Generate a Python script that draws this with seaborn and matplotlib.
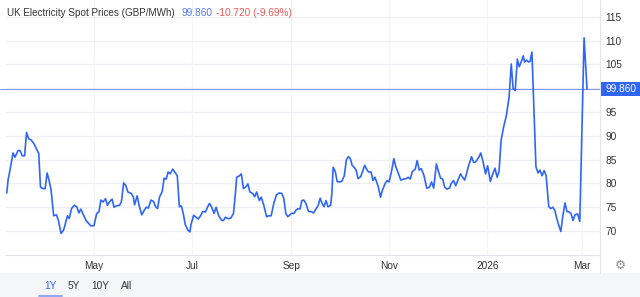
import matplotlib
matplotlib.use("Agg")
import matplotlib.pyplot as plt
import seaborn as sns
import pandas as pd
from matplotlib.patches import Rectangle
from matplotlib.lines import Line2D

# ---------------- data ----------------
title = "UK Electricity Spot Prices (GBP/MWh)"
last_price = 99.860
change = -10.720
change_pct = -9.69
base_date = "2025-03-01"

day_offset = [
    6.7, 7.5, 8.7, 10.6, 11.8, 13.7, 14.9, 16.4, 17.8, 19.0, 20.3, 21.9, 23.5, 25.6, 26.6,
    27.7, 29.3, 30.6, 31.8, 33.0, 34.3, 35.9, 37.6, 38.8, 40.5, 42.1, 44.5, 45.6, 47.0, 48.7,
    50.3, 51.6, 52.8, 54.4, 56.1, 57.7, 59.0, 61.0, 62.7, 64.1, 65.3, 66.7, 68.2, 69.4, 70.9,
    72.3, 73.5, 75.0, 77.0, 78.1, 79.5, 80.9, 82.1, 84.2, 85.5, 86.3, 87.9, 89.3, 90.8, 92.4,
    93.6, 94.9, 96.5, 98.1, 99.4, 100.6, 101.8, 103.5, 104.7, 106.0, 107.2, 108.4, 110.1, 111.3, 112.9,
    114.2, 115.4, 116.6, 117.9, 119.5, 120.8, 121.4, 123.1, 124.3, 125.9, 127.4, 128.8, 130.5, 131.7, 133.0,
    134.2, 135.8, 137.1, 138.7, 140.4, 141.7, 142.9, 144.5, 146.2, 147.9, 149.1, 149.9, 151.6, 152.8, 154.1,
    155.7, 156.9, 158.1, 159.8, 161.1, 162.3, 164.0, 165.2, 166.8, 168.5, 169.7, 171.4, 173.0, 174.7, 176.4,
    178.0, 179.2, 180.5, 181.7, 182.8, 184.0, 185.6, 186.9, 188.1, 189.3, 190.5, 191.7, 193.0, 194.6, 196.2,
    197.8, 199.4, 200.7, 201.9, 203.1, 204.3, 205.5, 206.8, 208.4, 209.2, 210.0, 211.3, 212.5, 213.7, 215.3,
    216.9, 218.2, 219.4, 220.6, 221.8, 223.0, 224.3, 225.5, 227.1, 228.3, 229.6, 230.8, 232.0, 233.6, 234.8,
    236.0, 238.1, 239.5, 240.7, 242.4, 243.6, 244.8, 246.5, 247.8, 249.0, 250.3, 252.1, 253.8, 255.5, 256.7,
    258.0, 259.3, 261.1, 262.3, 263.6, 264.9, 266.6, 268.3, 270.0, 271.3, 272.6, 274.3, 275.6, 276.9, 278.2,
    279.5, 280.8, 282.4, 283.7, 285.0, 286.3, 288.0, 289.3, 290.6, 291.9, 293.2, 294.4, 296.2, 297.5, 298.7,
    300.9, 301.9, 303.2, 304.9, 306.2, 307.9, 309.1, 310.8, 312.1, 313.3, 314.6, 316.2, 317.9, 319.6, 320.9,
    322.1, 323.4, 324.7, 325.9, 327.2, 328.4, 329.2, 330.5, 331.7, 332.6, 333.8, 336.3, 337.6, 338.8, 340.1,
    341.4, 342.6, 344.3, 345.6, 346.8, 348.1, 349.3, 350.6, 351.8, 353.1, 354.4, 355.6, 356.9, 358.1, 359.4,
    360.6, 362.3, 363.6, 366.3, 368.1,
]
price = [
    78.0, 80.7, 82.8, 86.4, 85.5, 86.9, 86.9, 85.8, 85.8, 90.7, 89.4, 89.1, 88.4, 87.0, 86.3,
    79.2, 78.9, 78.9, 82.2, 80.7, 78.6, 73.2, 73.4, 72.3, 69.5, 70.2, 73.2, 72.6, 74.7, 75.4,
    75.1, 73.8, 74.6, 73.4, 72.2, 71.6, 71.1, 71.1, 73.7, 74.0, 76.5, 76.1, 76.8, 75.4, 76.2,
    76.7, 75.0, 75.3, 75.4, 76.2, 80.1, 79.5, 78.2, 77.9, 77.2, 75.5, 77.4, 75.1, 73.4, 74.4,
    75.0, 74.8, 76.5, 76.2, 75.1, 74.7, 77.1, 78.3, 81.1, 80.9, 82.4, 82.0, 83.0, 82.4, 81.6,
    75.1, 75.3, 73.7, 71.3, 70.2, 69.8, 71.3, 73.3, 73.0, 72.5, 73.2, 74.1, 74.0, 75.0, 75.8,
    75.1, 73.7, 75.0, 73.2, 72.3, 72.2, 72.9, 72.6, 72.7, 73.7, 77.9, 81.3, 81.6, 82.0, 78.9,
    79.3, 79.9, 78.2, 77.9, 77.2, 78.2, 76.4, 77.1, 75.4, 73.0, 73.2, 73.2, 75.8, 77.6, 78.0,
    77.9, 76.9, 73.7, 73.0, 73.3, 73.7, 73.7, 74.4, 74.7, 74.6, 76.4, 76.5, 75.8, 74.1, 74.1,
    73.8, 74.7, 75.4, 76.9, 75.8, 75.1, 76.4, 75.1, 75.4, 77.9, 83.4, 82.5, 80.4, 80.3, 80.4,
    81.6, 84.9, 85.6, 85.3, 83.8, 83.4, 82.8, 81.0, 81.4, 82.5, 83.8, 83.0, 82.4, 82.4, 80.6,
    81.3, 79.3, 77.1, 78.6, 80.0, 80.6, 80.3, 82.8, 85.2, 83.5, 82.4, 80.7, 80.9, 81.0, 81.3,
    80.9, 82.5, 83.0, 84.8, 82.8, 83.1, 81.6, 79.0, 79.2, 80.3, 79.0, 84.1, 82.5, 81.1, 80.9,
    79.2, 78.8, 79.0, 80.1, 80.6, 79.5, 80.9, 82.0, 81.3, 80.7, 82.2, 83.8, 85.6, 84.4, 84.5,
    85.6, 86.4, 84.8, 82.0, 83.7, 80.4, 81.7, 83.2, 81.3, 82.5, 89.1, 91.9, 94.3, 98.2, 105.1,
    99.9, 99.5, 106.1, 104.5, 105.6, 106.8, 105.5, 105.9, 105.5, 105.6, 107.6, 83.5, 82.2, 82.8, 81.6,
    82.7, 81.7, 75.1, 74.7, 75.0, 74.3, 72.6, 71.1, 69.9, 73.3, 75.9, 74.1, 74.0, 73.7, 72.2,
    73.4, 73.6, 72.0, 110.58, 99.86,
]

tick_dates = ["2025-05-01", "2025-07-01", "2025-09-01", "2025-11-01", "2026-01-01", "2026-03-01"]
tick_labels = ["May", "Jul", "Sep", "Nov", "2026", "Mar"]
y_ticks = [70, 75, 80, 85, 90, 95, 100, 105, 110, 115]
y_tick_labels = ["70", "75", "80", "85", "90", "95", "", "105", "110", "115"]
range_buttons = ["1Y", "5Y", "10Y", "All"]

# ---------------- style ----------------
sns.set_theme(style="white")
plt.rcParams["font.family"] = ["Liberation Sans", "DejaVu Sans"]

LINE = "#2f66f5"
TEXT = "#333333"
GRID = "#eeeff2"
FS = 7.3

df = pd.DataFrame({
    "date": pd.Timestamp(base_date) + pd.to_timedelta(day_offset, unit="D"),
    "price": price,
})

W, H = 640, 297
fig = plt.figure(figsize=(6.4, 2.97), dpi=100)
fig.patch.set_facecolor("white")

# bottom band
fig.add_artist(Rectangle((0, 0), 1, 24 / H, transform=fig.transFigure,
                         facecolor="#f5f6f8", edgecolor="none", zorder=0))

ax = fig.add_axes([5.5 / W, 42 / H, 594.5 / W, 255 / H])
ax.set_facecolor("none")

sns.lineplot(data=df, x="date", y="price", ax=ax, color=LINE, linewidth=1.2, zorder=3)

base = pd.Timestamp(base_date)
ax.set_xlim(base + pd.Timedelta(days=5.9), base + pd.Timedelta(days=376.2))
ax.set_ylim(64.96, 118.53)

ax.set_xticks(pd.to_datetime(tick_dates))
ax.set_xticklabels(tick_labels)
ax.set_yticks(y_ticks)
ax.set_yticklabels(y_tick_labels)
ax.yaxis.tick_right()
ax.tick_params(axis="y", length=0, pad=4, labelsize=FS, labelcolor=TEXT)
ax.tick_params(axis="x", length=0, pad=4, labelsize=FS, labelcolor=TEXT)
ax.set_xlabel("")
ax.set_ylabel("")

ax.grid(True, axis="y", color=GRID, linewidth=0.9)
ax.grid(True, axis="x", color="#f2f4f8", linewidth=0.9)
for s in ["top", "left"]:
    ax.spines[s].set_visible(False)
ax.spines["bottom"].set_color("#e3e5ea")
ax.spines["bottom"].set_linewidth(0.8)
ax.spines["right"].set_visible(False)

# right separator line
fig.add_artist(Line2D([600 / W, 600 / W], [24 / H, 1], transform=fig.transFigure,
                      color="#e3e5ea", linewidth=0.8))

# last price line and tag
ax.axhline(last_price, xmin=-0.01, xmax=1, color="#7f97f2", linewidth=0.75,
           zorder=2, clip_on=False)
ax.add_patch(Rectangle((1.0, last_price - 3.07 / 2), 41 / 594.5, 3.07,
                       transform=ax.get_yaxis_transform(), facecolor="#2f66f5",
                       edgecolor="none", clip_on=False, zorder=5))
ax.text(1.0 + 5 / 594.5, last_price, f"{last_price:.3f}", transform=ax.get_yaxis_transform(),
        color="white", fontsize=FS, va="center", ha="left", zorder=6, clip_on=False)

# header
ty = 1 - 13 / H
fig.text(7 / W, ty, title, color=TEXT, fontsize=7.15, va="center", ha="left")
fig.text(181 / W, ty, f"{last_price:.3f}", color="#5577ff", fontsize=FS, va="center", ha="left")
fig.text(216 / W, ty, f"{change:.3f} ({change_pct:.2f}%)", color="#f25858", fontsize=FS,
         va="center", ha="left")

# gear
fig.text(620 / W, 1 - 265 / H, "\u2699", color="#8a8d94", fontsize=9, va="center", ha="center",
         family=["DejaVu Sans"])

# range buttons
bx = [50, 74, 100, 127]
for lab, x in zip(range_buttons, bx):
    fig.text(x / W, 1 - 286 / H, lab, color=("#2f66f5" if lab == "1Y" else TEXT),
             fontsize=FS, va="center", ha="center")
fig.add_artist(Line2D([39 / W, 62 / W], [1.2 / H, 1.2 / H], transform=fig.transFigure,
                      color="#7d98f7", linewidth=1.2))

fig.savefig("out.png", dpi=100)
